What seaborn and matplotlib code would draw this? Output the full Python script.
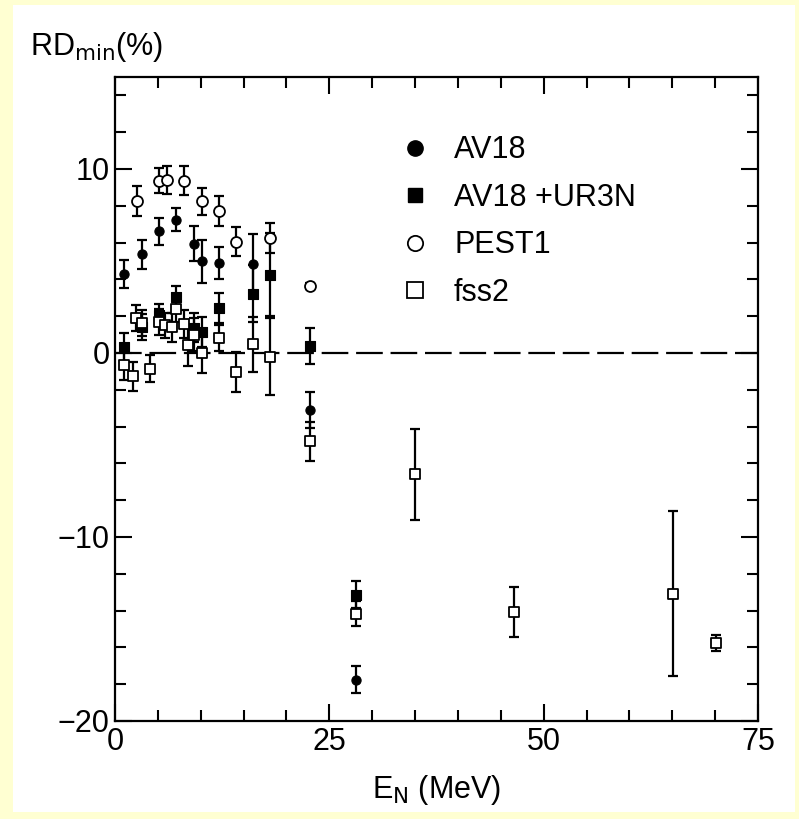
import numpy as np
import pandas as pd
import matplotlib
matplotlib.use("Agg")
import matplotlib.pyplot as plt
from matplotlib.lines import Line2D
from matplotlib.patches import Rectangle
import seaborn as sns

# ---- data ----
av18_E   = [1.1, 3.1, 5.1, 7.1, 9.2, 10.1, 12.1, 16.1, 22.8, 28.1]
av18_v   = [4.28, 5.36, 6.61, 7.25, 5.94, 4.98, 4.89, 4.82, -3.08, -17.75]
av18_err = [0.77, 0.80, 0.72, 0.64, 0.94, 1.15, 0.86, 1.67, 0.98, 0.74]

ur3n_E   = [1.1, 3.1, 5.1, 7.1, 9.2, 10.1, 12.1, 16.1, 18.1, 22.8, 28.1]
ur3n_v   = [0.30, 1.41, 2.09, 3.04, 1.38, 1.14, 2.45, 3.23, 4.26, 0.38, -13.13]
ur3n_err = [0.80, 0.70, 0.60, 0.60, 0.80, 0.80, 0.83, 1.55, 2.26, 1.00, 0.74]

pest_E   = [2.6, 5.1, 6.1, 8.1, 10.1, 12.1, 14.1, 18.1, 22.8]
pest_v   = [8.26, 9.37, 9.42, 9.37, 8.24, 7.72, 6.05, 6.27, 3.64]
pest_err = [0.82, 0.68, 0.77, 0.77, 0.74, 0.82, 0.80, 0.82, 0.15]

fss2_E   = [1.1, 2.1, 2.5, 3.2, 4.1, 5.1, 5.8, 6.6, 7.1, 8.1, 8.5, 9.2, 10.1, 12.1,
            14.1, 16.1, 18.1, 22.8, 28.1, 35.0, 46.5, 65.1, 70.1]
fss2_v   = [-0.67, -1.27, 1.92, 1.63, -0.85, 1.69, 1.50, 1.40, 2.39, 1.56, 0.42, 1.00,
            0.00, 0.82, -1.03, 0.47, -0.20, -4.80, -14.16, -6.60, -14.07, -13.08, -15.76]
fss2_err = [0.80, 0.80, 0.70, 0.70, 0.72, 0.70, 0.70, 0.80, 0.70, 0.75, 1.10, 0.90,
            1.10, 0.70, 1.10, 1.50, 2.10, 1.05, 0.70, 2.45, 1.35, 4.50, 0.45]

series_names = ["AV18", "AV18 +UR3N", "PEST1", "fss2"]
x_ticks = [0, 25, 50, 75]
y_ticks = [-20, -10, 0, 10]

# ---- style ----
sns.set_style("ticks")
plt.rcParams['font.family'] = ['Liberation Sans Narrow', 'Liberation Sans', 'DejaVu Sans']
plt.rcParams['mathtext.fontset'] = 'custom'
plt.rcParams['mathtext.rm'] = 'Liberation Sans Narrow'
plt.rcParams['mathtext.it'] = 'Liberation Sans Narrow'
plt.rcParams['text.color'] = 'black'

W, H = 799, 819
fig = plt.figure(figsize=(W / 100, H / 100), dpi=100)
fig.patch.set_facecolor('#FFFFD2')
bg = Rectangle((13 / W, 1 - 812 / H), (795 - 13) / W, (812 - 5) / H,
               transform=fig.transFigure, facecolor='white', edgecolor='none', zorder=-10)
fig.patches.append(bg)

ax = fig.add_axes([115 / W, 1 - 721 / H, (758 - 115) / W, (721 - 77) / H])
ax.set_zorder(5)
ax.set_facecolor('white')

frames = []
for name, E, v, e in [("AV18", av18_E, av18_v, av18_err),
                      ("AV18 +UR3N", ur3n_E, ur3n_v, ur3n_err),
                      ("PEST1", pest_E, pest_v, pest_err),
                      ("fss2", fss2_E, fss2_v, fss2_err)]:
    frames.append(pd.DataFrame({"E": E, "v": v, "err": e, "model": name}))
df = pd.concat(frames, ignore_index=True)

# zero line
ax.axhline(0, color='black', lw=1.6, dashes=(12, 3.5), zorder=1)

# error bars
for name in series_names:
    d = df[df.model == name]
    ax.errorbar(d.E, d.v, yerr=d.err, fmt='none', ecolor='black', elinewidth=1.6,
                capsize=3.8, capthick=1.6, zorder=2)

# markers
styles = {
    "AV18":       dict(marker='o', s=44, color='black', edgecolor='black', linewidth=0.8),
    "AV18 +UR3N": dict(marker='s', s=42, color='black', edgecolor='black', linewidth=0.8),
    "PEST1":      dict(marker='o', s=62, color='white', edgecolor='black', linewidth=1.3),
    "fss2":       dict(marker='s', s=50, color='white', edgecolor='black', linewidth=1.3),
}
for name in series_names:
    d = df[df.model == name]
    sns.scatterplot(data=d, x="E", y="v", ax=ax, zorder=3, legend=False, **styles[name])

ax.set_xlim(0, 75)
ax.set_ylim(-20, 15)
ax.set_xticks(x_ticks)
ax.set_yticks(y_ticks)
ax.set_xticklabels([str(t) for t in x_ticks])
ax.set_yticklabels([str(t).replace('-', '\u2212') for t in y_ticks])
ax.set_xticks(np.arange(0, 76, 5), minor=True)
ax.set_yticks(np.arange(-20, 15.1, 2), minor=True)
ax.tick_params(which='both', direction='in', top=True, right=True, width=1.5,
               labelsize=22, color='black', labelcolor='black')
ax.tick_params(which='major', length=12, pad=4)
ax.tick_params(which='minor', length=8)
for sp in ax.spines.values():
    sp.set_linewidth(1.6)
    sp.set_color('black')
ax.set_xlabel('')
ax.set_ylabel('')

fig.text(30 / W, 1 - 47 / H, r'RD$_{\rm min}$(%)', fontsize=22, va='center', ha='left',
         color='black')
fig.text(437 / W, 1 - 790 / H, r'E$_{\rm N}$ (MeV)', fontsize=22, va='center', ha='center',
         color='black')

handles = [
    Line2D([], [], ls='none', marker='o', ms=11, mfc='black', mec='black'),
    Line2D([], [], ls='none', marker='s', ms=10, mfc='black', mec='black'),
    Line2D([], [], ls='none', marker='o', ms=11, mfc='white', mec='black', mew=1.3),
    Line2D([], [], ls='none', marker='s', ms=11, mfc='white', mec='black', mew=1.3),
]
leg = ax.legend(handles, series_names, loc='upper left', bbox_to_anchor=(0.400, 0.952),
                frameon=False, handletextpad=0.78, labelspacing=0.57, handlelength=1.0,
                prop={'family': ['Liberation Sans', 'DejaVu Sans'], 'size': 22})
for t in leg.get_texts():
    t.set_color('black')

fig.savefig('out.png', dpi=100, facecolor=fig.get_facecolor())
